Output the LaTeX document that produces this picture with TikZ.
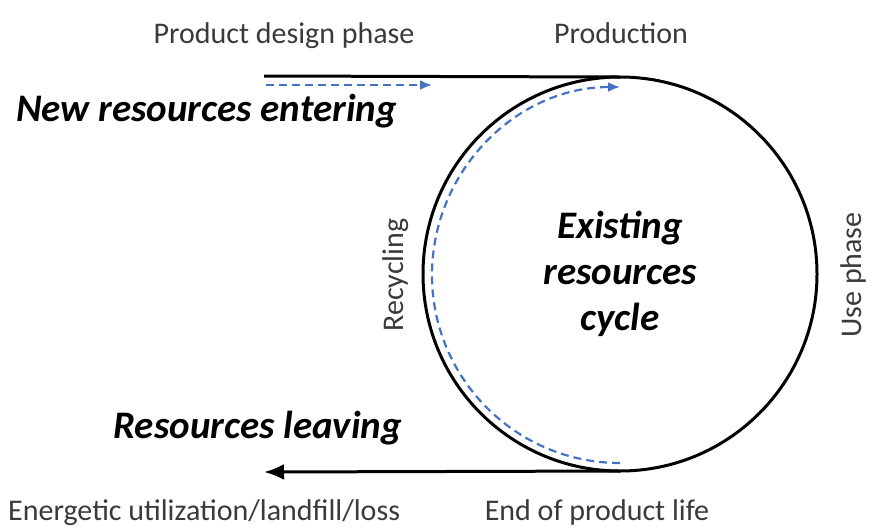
\documentclass[tikz,border=0pt]{standalone}
\usepackage{fontspec}
\setmainfont{Carlito}
\usetikzlibrary{arrows.meta}
\definecolor{flowblue}{HTML}{4472C4}
\definecolor{labelgray}{HTML}{3A3A3A}
\tikzset{
  lbl/.style={font=\fontsize{30}{34}\selectfont, text=labelgray, inner sep=0pt},
  big/.style={font=\fontsize{39}{46}\selectfont\bfseries\itshape, text=black, inner sep=0pt},
  thick line/.style={line width=3pt, black},
  flow/.style={line width=2.2pt, flowblue, dash pattern=on 8pt off 5pt, -{Latex[length=12pt,width=10pt]}}
}
\begin{document}
\begin{tikzpicture}[x=1pt,y=-1pt]
\useasboundingbox (0,0) rectangle (869,531);
\node[circle, draw, line width=3pt, minimum size=394pt, outer sep=0pt, inner sep=0pt] (c) at (620,274) {};
\node[big, align=center] (cyc) at (620,274) {Existing\\resources\\cycle};
\coordinate (tl) at (264,76);
\coordinate (bl) at (264,472);
\draw[thick line] (tl) -- (c.north);
\draw[thick line, -{Latex[length=20pt,width=16pt]}] (c.south) -- (bl);
\coordinate (fs) at (266,85);
\coordinate (fe) at (432,85);
\draw[flow] (fs) -- (fe);
\coordinate (as) at (620,463);
\draw[flow] (as) arc[start angle=90, end angle=270, radius=188];
\node[lbl, anchor=base] (pd) at (284,43) {Product design phase};
\node[lbl, anchor=base] (pr) at (621,43) {Production};
\node[big, anchor=west] (nre) at (16,111) {New resources entering};
\node[big, anchor=east] (rl) at (402,428) {Resources leaving};
\node[lbl, anchor=base west] (eu) at (8,520) {Energetic utilization/landfill/loss};
\node[lbl, anchor=base] (eol) at (597,520) {End of product life};
\node[lbl, rotate=90] (rec) at (396,275) {Recycling};
\node[lbl, rotate=90] (use) at (853,275) {Use phase};
\end{tikzpicture}
\end{document}
